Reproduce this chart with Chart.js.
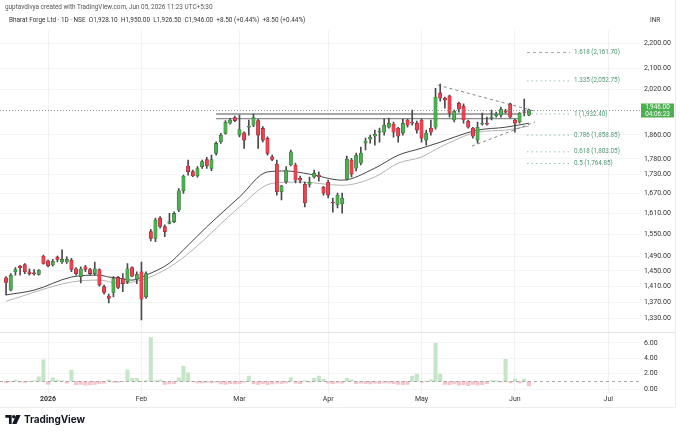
<!DOCTYPE html>
<html><head><meta charset="utf-8">
<script src="https://cdn.jsdelivr.net/npm/chart.js@4.4.1/dist/chart.umd.min.js"></script>
<style>
html,body{margin:0;padding:0;background:#fff;width:680px;height:436px;overflow:hidden;font-family:Roboto,"Liberation Sans",sans-serif;}
#wrap{position:relative;width:680px;height:436px;}
#c{position:absolute;left:0;top:0;}
.t{position:absolute;white-space:nowrap;color:#333;line-height:1;}
</style></head><body>
<div id="wrap">
<canvas id="c" width="680" height="436"></canvas>
<div class="t" id="h1" style="left:5px;top:4px;font-size:6.4px;color:#555"></div>
<div class="t" id="h2" style="left:9px;top:17px;font-size:6.4px;color:#333"></div>
<div class="t" style="left:650px;top:17px;font-size:6.4px;color:#333">INR</div>
<div class="t" style="left:5px;top:414px;display:flex;align-items:center;">
<svg width="16" height="9" viewBox="0 0 17 10"><path d="M0 0h7v10H4V3H0z" fill="#131722"/><circle cx="9.3" cy="1.9" r="1.9" fill="#131722"/><path d="M12 0h5l-4.6 10H7.6z" fill="#131722"/></svg>
<span style="margin-left:3px;font-size:10px;font-weight:700;color:#131722;font-family:Inter,Roboto,sans-serif;letter-spacing:-0.1px">TradingView</span>
</div>
</div>
<script>
// ---------- data ----------
const symbolName = 'Bharat Forge Ltd · 1D · NSE';
const creditLine = 'guptavdivya created with TradingView.com, Jun 05, 2026 11:23 UTC+5:30';
const countdown = '04:06:23';
const monthIdx = [9, 29, 50, 69, 89, 109, 129];
const monthLabels = ['2026', 'Feb', 'Mar', 'Apr', 'May', 'Jun', 'Jul'];
const priceTicks = [2200, 2100, 2020, 1860, 1780, 1730, 1670, 1610, 1550, 1490, 1450, 1410, 1370, 1330];
const volTicks = [0, 2, 4, 6];

const opens = [1432,1400,1448,1463,1467,1448,1445,1441,1490,1477,1466,1487,1474,1474,1479,1456,1435,1461,1454,1443,
1454,1409,1385,1394,1433,1430,1422,1459,1428,1448,1383,1558,1539,1597,1573,1582,1587,1621,1679,1757,
1739,1725,1755,1778,1749,1798,1836,1865,1900,1920,1859,1867,1886,1893,1909,1882,1848,1787,1763,1676,
1707,1760,1760,1718,1699,1699,1722,1728,1690,1706,1645,1636,1639,1715,1776,1750,1766,1832,1845,1855,
1869,1869,1886,1897,1883,1866,1911,1904,1900,1911,1842,1883,1886,2008,1989,1997,1911,1971,1960,1907,
1883,1842,1897,1900,1918,1925,1928,1942,1968,1911,1904,1940,1928.1];
const highs = [1435,1443,1459,1465,1470,1456,1454,1454,1493,1479,1481,1490,1507,1488,1484,1459,1461,1465,1457,1474,
1456,1413,1390,1435,1436,1443,1470,1461,1448,1474,1448,1565,1597,1602,1578,1611,1616,1686,1728,1776,
1744,1755,1776,1785,1792,1836,1865,1909,1917,1925,1928,1870,1911,1932,1913,1888,1853,1792,1776,1696,
1755,1809,1766,1725,1706,1722,1744,1738,1693,1712,1657,1672,1672,1789,1782,1799,1819,1849,1859,1876,
1883,1914,1918,1904,1886,1914,1914,1946,1907,1914,1876,1911,2025,2041,1993,2000,1946,1975,1968,1911,
1886,1904,1935,1921,1946,1939,1957,1949,1971,1914,1937,1986,1950];
const lows = [1388,1398,1439,1439,1443,1439,1439,1439,1468,1461,1463,1474,1470,1470,1448,1439,1419,1448,1439,1439,
1410,1390,1368,1383,1404,1396,1417,1435,1417,1326,1379,1532,1530,1568,1544,1580,1584,1616,1671,1728,
1723,1721,1749,1749,1742,1792,1831,1862,1897,1905,1853,1814,1859,1888,1814,1836,1792,1774,1666,1651,
1702,1757,1703,1703,1630,1690,1718,1709,1666,1657,1615,1627,1612,1712,1722,1741,1760,1809,1832,1825,
1835,1859,1883,1852,1835,1859,1886,1893,1866,1835,1825,1859,1879,1978,1953,1921,1904,1939,1900,1883,
1849,1832,1893,1893,1911,1921,1921,1935,1918,1869,1900,1925,1926.5];
const closes = [1420,1439,1454,1458,1448,1443,1442,1452,1470,1464,1476,1481,1481,1481,1454,1443,1456,1454,1443,1456,
1413,1394,1379,1430,1407,1417,1456,1436,1441,1377,1443,1539,1592,1573,1558,1587,1611,1679,1725,1739,
1725,1749,1771,1757,1778,1831,1859,1903,1911,1909,1878,1842,1890,1920,1859,1842,1798,1778,1676,1694,
1744,1803,1712,1712,1642,1706,1734,1722,1672,1666,1642,1666,1657,1779,1731,1792,1799,1839,1852,1862,
1872,1893,1900,1869,1855,1900,1893,1900,1876,1849,1866,1869,1993,1989,1982,1935,1942,1949,1911,1886,
1855,1886,1900,1897,1921,1932,1949,1939,1921,1900,1935,1937.5,1946];
const relVolume = [0.83,0.92,1.17,0.9,0.85,0.95,1.05,1.6,3.8,0.6,1.45,1.15,1.05,0.75,2.48,0.55,0.6,0.5,0.55,0.6,
0.7,0.75,1.2,0.9,0.85,0.95,2.5,1.4,1.4,0.95,1.05,6.7,1.1,1.2,0.6,0.65,0.7,1.45,3.0,2.1,
0.95,0.8,0.8,0.85,0.8,0.9,0.65,0.6,0.7,0.65,0.7,0.9,1.7,0.65,0.6,0.7,0.55,0.65,0.75,0.7,
0.8,1.5,0.75,0.7,1.1,0.9,1.4,1.7,1.25,0.75,0.7,0.8,0.75,1.4,1.2,0.7,0.75,0.7,0.65,0.75,
0.7,0.8,0.75,0.7,0.6,0.55,0.6,1.7,1.95,0.85,0.95,1.2,5.96,1.95,0.6,0.55,0.65,0.5,0.55,0.45,
0.6,0.5,0.55,0.7,1.1,1.05,0.9,3.87,0.8,1.3,0.8,1.3,0.4];
const volBase = 1;

const maFastIdx = [0,6,14,20,22,24,27,30,35,38,43,50,56,60,65,72,79,84,89,93,96,101,107,112];
const maFast    = [1388,1400,1434,1439,1434,1431,1426,1439,1471,1507,1572,1660,1738,1741,1731,1712,1750,1792,1815,1835,1852,1876,1886,1900];
const maSlowIdx = [0,14,20,24,29,35,40,50,57,63,72,79,84,89,93,101,107,112];
const maSlow    = [1372,1421,1426,1418,1426,1460,1507,1630,1702,1706,1696,1722,1766,1786,1819,1869,1876,1890];

const resistLevels = [1932, 1916];
const resistIdx = [45, 110];
const triTopIdx = [92.5, 113.3], triTop = [2037, 1942];
const triBotIdx = [99.8, 113.3], triBot = [1822, 1904];
const fibRatios = ['1.618', '1.335', '1', '0.786', '0.618', '0.5'];
const fibPrices = [2161.70, 2052.75, 1932.40, 1858.85, 1803.05, 1764.85];
const fibIdx = [111.6, 120.8];

// ---------- helpers ----------
const fmt = v => Number(v).toLocaleString('en-US', {minimumFractionDigits: 2, maximumFractionDigits: 2});
const n = closes.length;
const last = n - 1;
const chg = closes[last] - closes[last - 1];
const pct = chg / closes[last - 1] * 100;
const chgTxt = (chg >= 0 ? '+' : '') + chg.toFixed(2) + ' (' + (pct >= 0 ? '+' : '') + pct.toFixed(2) + '%)';
document.getElementById('h1').textContent = creditLine;
document.getElementById('h2').textContent = symbolName + '\u2002O' + fmt(opens[last]) + '\u2002H' + fmt(highs[last]) +
  '\u2002L' + fmt(lows[last]) + '\u2002C' + fmt(closes[last]) + '\u2002' + chgTxt + '\u2002' + chgTxt;

const xs = closes.map((_, i) => i);
const UP = '#4caf50', DN = '#ef4150';

const datasets = [];
datasets.push({type:'line', data: maSlowIdx.map((x,i)=>({x, y: maSlow[i]})), borderColor:'#b3b3b3', borderWidth:1,
  pointRadius:0, cubicInterpolationMode:'monotone', yAxisID:'y', order:8});
datasets.push({type:'line', data: maFastIdx.map((x,i)=>({x, y: maFast[i]})), borderColor:'#454545', borderWidth:1,
  pointRadius:0, cubicInterpolationMode:'monotone', yAxisID:'y', order:7});
resistLevels.forEach(lv => datasets.push({type:'line', data: resistIdx.map(x=>({x, y: lv})), borderColor:'#8a8a8a',
  borderWidth:1.4, pointRadius:0, yAxisID:'y', order:6}));
datasets.push({type:'bar', data: xs.map(i=>({x:i, y:[lows[i], highs[i]]})), backgroundColor:'#4a4a4a',
  barThickness:1, grouped:false, yAxisID:'y', order:3});
datasets.push({type:'bar', data: xs.map(i=>({x:i, y:[opens[i], closes[i]]})),
  backgroundColor: xs.map(i => closes[i] >= opens[i] ? UP : DN),
  borderColor: xs.map(i => closes[i] >= opens[i] ? '#2f6b32' : '#8c2230'),
  borderWidth:0.6, borderSkipped:false, barThickness:3.4, grouped:false, yAxisID:'y', order:2});
datasets.push({type:'line', data: triTopIdx.map((x,i)=>({x, y: triTop[i]})), borderColor:'#666', borderWidth:0.8,
  borderDash:[3,3], pointRadius:0, yAxisID:'y', order:1});
datasets.push({type:'line', data: triBotIdx.map((x,i)=>({x, y: triBot[i]})), borderColor:'#666', borderWidth:0.8,
  borderDash:[3,3], pointRadius:0, yAxisID:'y', order:1});
fibPrices.forEach((p, k) => datasets.push({type:'line', data: fibIdx.map(x=>({x, y:p})),
  borderColor: k === 0 ? '#8f8f8f' : '#7db89b', borderWidth:0.8, borderDash: k === 0 ? [3,3] : [1.5,3],
  pointRadius:0, yAxisID:'y', order:1}));
datasets.push({type:'bar', data: xs.map(i=>({x:i, y:[volBase, relVolume[i]]})),
  backgroundColor: xs.map(i => relVolume[i] >= volBase ? '#c5e6c6' : '#f6c4cb'),
  barThickness:3.4, grouped:false, yAxisID:'yv', order:9});

const overlay = {
  id: 'overlay',
  afterDatasetsDraw(chart) {
    const {ctx, chartArea: a, scales: {x, y, yv}} = chart;
    ctx.save();
    ctx.strokeStyle = '#e3e5ea'; ctx.lineWidth = 1;
    const sy = Math.round(yv.top) + 0.5;
    ctx.beginPath(); ctx.moveTo(0, sy); ctx.lineTo(676, sy); ctx.stroke();
    ctx.strokeStyle = '#ececef';
    ctx.beginPath(); ctx.moveTo(0, 407.5); ctx.lineTo(675.5, 407.5); ctx.lineTo(675.5, 0); ctx.stroke();
    const vb = Math.round(yv.getPixelForValue(volBase)) + 0.5;
    ctx.strokeStyle = '#a9a9a9'; ctx.setLineDash([3, 3]);
    ctx.beginPath(); ctx.moveTo(a.left, vb); ctx.lineTo(a.right, vb); ctx.stroke();
    const cy = Math.round(y.getPixelForValue(closes[last])) + 0.5;
    ctx.strokeStyle = '#9a9a9a'; ctx.setLineDash([1, 2]);
    ctx.beginPath(); ctx.moveTo(a.left, cy); ctx.lineTo(a.right, cy); ctx.stroke();
    ctx.setLineDash([]);
    ctx.font = '6.3px Roboto'; ctx.textBaseline = 'middle'; ctx.textAlign = 'left';
    ctx.fillStyle = '#4f9873';
    fibPrices.forEach((p, k) => {
      ctx.fillText(fibRatios[k] + ' (' + fmt(p) + ')', x.getPixelForValue(fibIdx[1]) + 4, y.getPixelForValue(p));
    });
    ctx.fillStyle = '#4caf50';
    ctx.fillRect(a.right + 1, cy - 7, 33, 14);
    ctx.fillStyle = '#fff'; ctx.textAlign = 'center';
    ctx.font = '6.4px Roboto';
    ctx.fillText(fmt(closes[last]), a.right + 17.5, cy - 3);
    ctx.fillText(countdown, a.right + 17.5, cy + 3.5);
    ctx.restore();
  }
};

Chart.defaults.font.family = 'Roboto';
new Chart(document.getElementById('c'), {
  data: {datasets},
  options: {
    responsive: false, animation: false,
    layout: {padding: {top: 30, bottom: 29, left: 0, right: 0}},
    plugins: {legend: {display: false}, tooltip: {enabled: false}},
    scales: {
      x: {type: 'linear', position: 'bottom', min: -1.3, max: 135.8, offset: false,
        afterBuildTicks: s => { s.ticks = monthIdx.map(v => ({value: v})); },
        afterFit: s => { s.height = 14; },
        ticks: {autoSkip: false, maxRotation: 0, padding: 2, color: '#333',
          font: c => ({size: 7, weight: c.index === 0 ? 'bold' : 'normal'}),
          callback: (v, i) => monthLabels[i]},
        grid: {color: '#f1f2f5', drawTicks: false, offset: false}, border: {display: false}},
      y: {type: 'logarithmic', position: 'right', stack: 'pane', stackWeight: 301.7, min: 1297.6, max: 2253,
        afterBuildTicks: s => { s.ticks = priceTicks.map(v => ({value: v})); },
        afterFit: s => { s.width = 40; },
        ticks: {autoSkip: false, padding: 4, color: '#333', font: {size: 7}, callback: v => fmt(v)},
        grid: {color: '#f3f4f7', drawTicks: false}, border: {display: false}},
      yv: {type: 'linear', position: 'right', stack: 'pane', stackWeight: 61.3, min: -0.52, max: 7.47,
        afterBuildTicks: s => { s.ticks = volTicks.map(v => ({value: v})); },
        afterFit: s => { s.width = 40; },
        ticks: {autoSkip: false, padding: 4, color: '#333', font: {size: 7}, callback: v => Number(v).toFixed(2)},
        grid: {color: '#f3f4f7', drawTicks: false}, border: {display: false}}
    }
  },
  plugins: [overlay]
});
</script>
</body></html>
